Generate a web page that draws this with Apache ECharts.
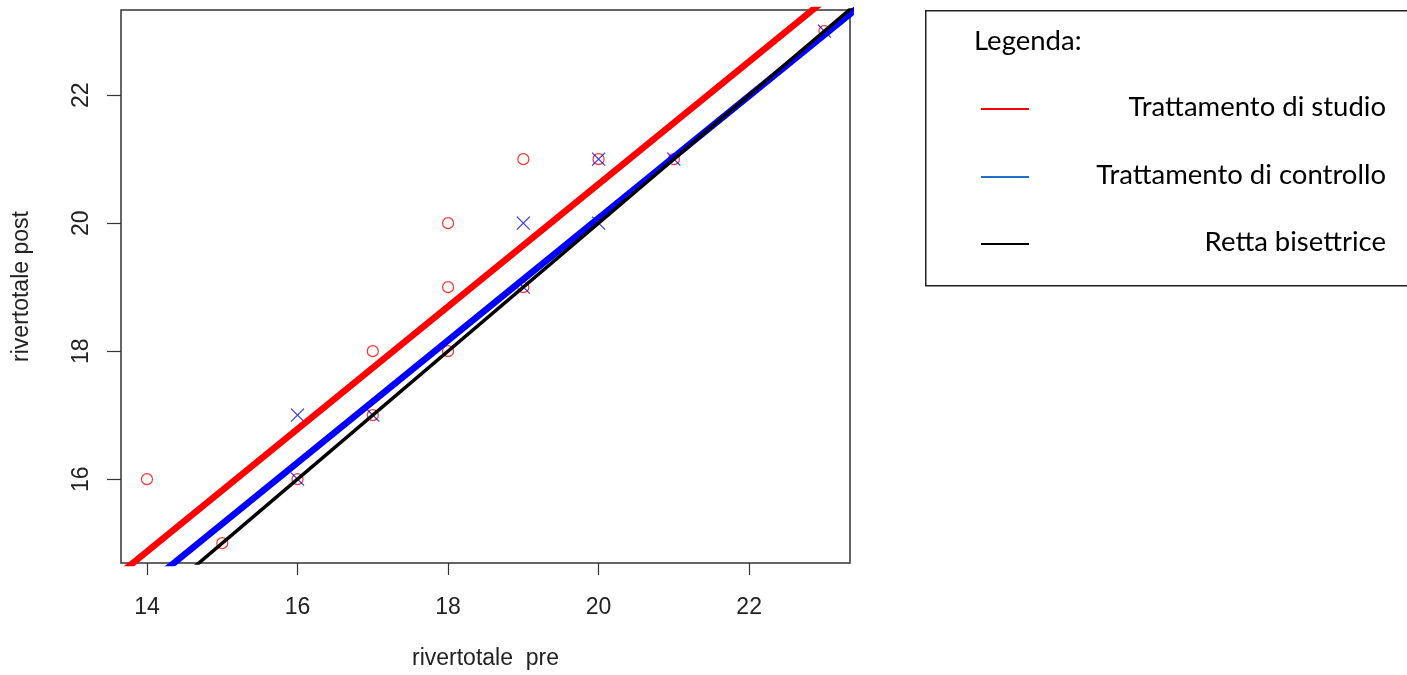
<!DOCTYPE html>
<html>
<head>
<meta charset="utf-8">
<script src="https://cdn.jsdelivr.net/npm/echarts@6/dist/echarts.min.js"></script>
<style>
html,body{margin:0;padding:0;background:#fff;}
#chart{width:1407px;height:675px;}
</style>
</head>
<body>
<div id="chart"></div>
<script>
// ---- data ----
var xTicks = [14, 16, 18, 20, 22];
var yTicks = [16, 18, 20, 22];
var studioPoints = [[14,16],[15,15],[16,16],[17,18],[17,17],[18,20],[18,19],[18,18],[19,21],[19,19],[20,21],[21,21],[23,23]];
var controlPoints = [[16,17],[16,16],[17,17],[19,20],[19,19],[20,21],[20,20],[21,21],[23,23]];
var studioLine = [[13.5, 14.39], [23.5, 23.96]];
var controlLine = [[13.5, 13.87], [23.5, 23.42]];
var bisectLine = [[13.5, 13.5], [23.5, 23.5]];
var legendTitle = 'Legenda:';
var legendLabels = ['Trattamento di studio', 'Trattamento di controllo', 'Retta bisettrice'];
var legendColors = ['#ff0000', '#1f6fc6', '#000000'];

var chart = echarts.init(document.getElementById('chart'), null, {renderer: 'canvas'});
var axisFont = 'Liberation Sans, Arial, sans-serif';
var legFont = 'Lato, Noto Sans, sans-serif';

var graphics = [
  {type: 'rect', left: 925, top: 10, shape: {width: 490, height: 275},
   style: {fill: '#fff', stroke: '#222', lineWidth: 1.5}, z: 10},
  {type: 'text', x: 974, y: 41, style: {text: legendTitle, font: '27.5px ' + legFont, fill: '#000', verticalAlign: 'middle'}, z: 11}
];
var legY = [109, 177, 244];
legendLabels.forEach(function (lab, i) {
  graphics.push({type: 'line', shape: {x1: 981, y1: legY[i], x2: 1029, y2: legY[i]},
    style: {stroke: legendColors[i], lineWidth: 2}, z: 11});
  graphics.push({type: 'text', x: 1386, y: legY[i] - 2,
    style: {text: lab, font: '27.5px ' + legFont, fill: '#000', align: 'right', verticalAlign: 'middle'}, z: 11});
});

var option = {
  backgroundColor: '#fff',
  animation: false,
  grid: {left: 121, top: 10, width: 729, height: 553, show: true, borderColor: '#333', borderWidth: 1.5, backgroundColor: 'transparent'},
  xAxis: {
    type: 'value', min: 13.655, max: 23.34,
    name: 'rivertotale  pre', nameLocation: 'middle', nameGap: 84,
    nameTextStyle: {fontFamily: axisFont, fontSize: 23, color: '#222'},
    axisLine: {show: false},
    axisTick: {show: true, inside: false, length: 12, customValues: xTicks, lineStyle: {color: '#333', width: 1.2}},
    axisLabel: {customValues: xTicks, margin: 33, fontFamily: axisFont, fontSize: 23, color: '#222'},
    splitLine: {show: false}
  },
  yAxis: {
    type: 'value', min: 14.69, max: 23.33,
    name: 'rivertotale post', nameLocation: 'middle', nameGap: 88,
    nameTextStyle: {fontFamily: axisFont, fontSize: 23, color: '#222'},
    axisLine: {show: false},
    axisTick: {show: true, inside: false, length: 14, customValues: yTicks, lineStyle: {color: '#333', width: 1.2}},
    axisLabel: {customValues: yTicks, rotate: 90, margin: 28, fontFamily: axisFont, fontSize: 23, color: '#222'},
    splitLine: {show: false}
  },
  series: [
    {type: 'scatter', data: studioPoints, symbol: 'circle', symbolSize: 11,
     itemStyle: {color: 'rgba(0,0,0,0)', borderColor: '#ff0000', borderWidth: 1.2}, z: 2},
    {type: 'scatter', data: controlPoints, symbol: 'path://M0,0L10,10M10,0L0,10', symbolSize: 13,
     itemStyle: {color: 'rgba(0,0,0,0)', borderColor: '#0000ff', borderWidth: 1.2}, z: 2},
    {type: 'line', data: studioLine, showSymbol: false, symbol: 'none', clip: true,
     lineStyle: {color: '#ff0000', width: 6.5}, z: 3},
    {type: 'line', data: controlLine, showSymbol: false, symbol: 'none', clip: true,
     lineStyle: {color: '#0000ff', width: 6.5}, z: 4},
    {type: 'line', data: bisectLine, showSymbol: false, symbol: 'none', clip: true,
     lineStyle: {color: '#000000', width: 3.5}, z: 5}
  ],
  graphic: graphics
};
chart.setOption(option);
</script>
</body>
</html>
